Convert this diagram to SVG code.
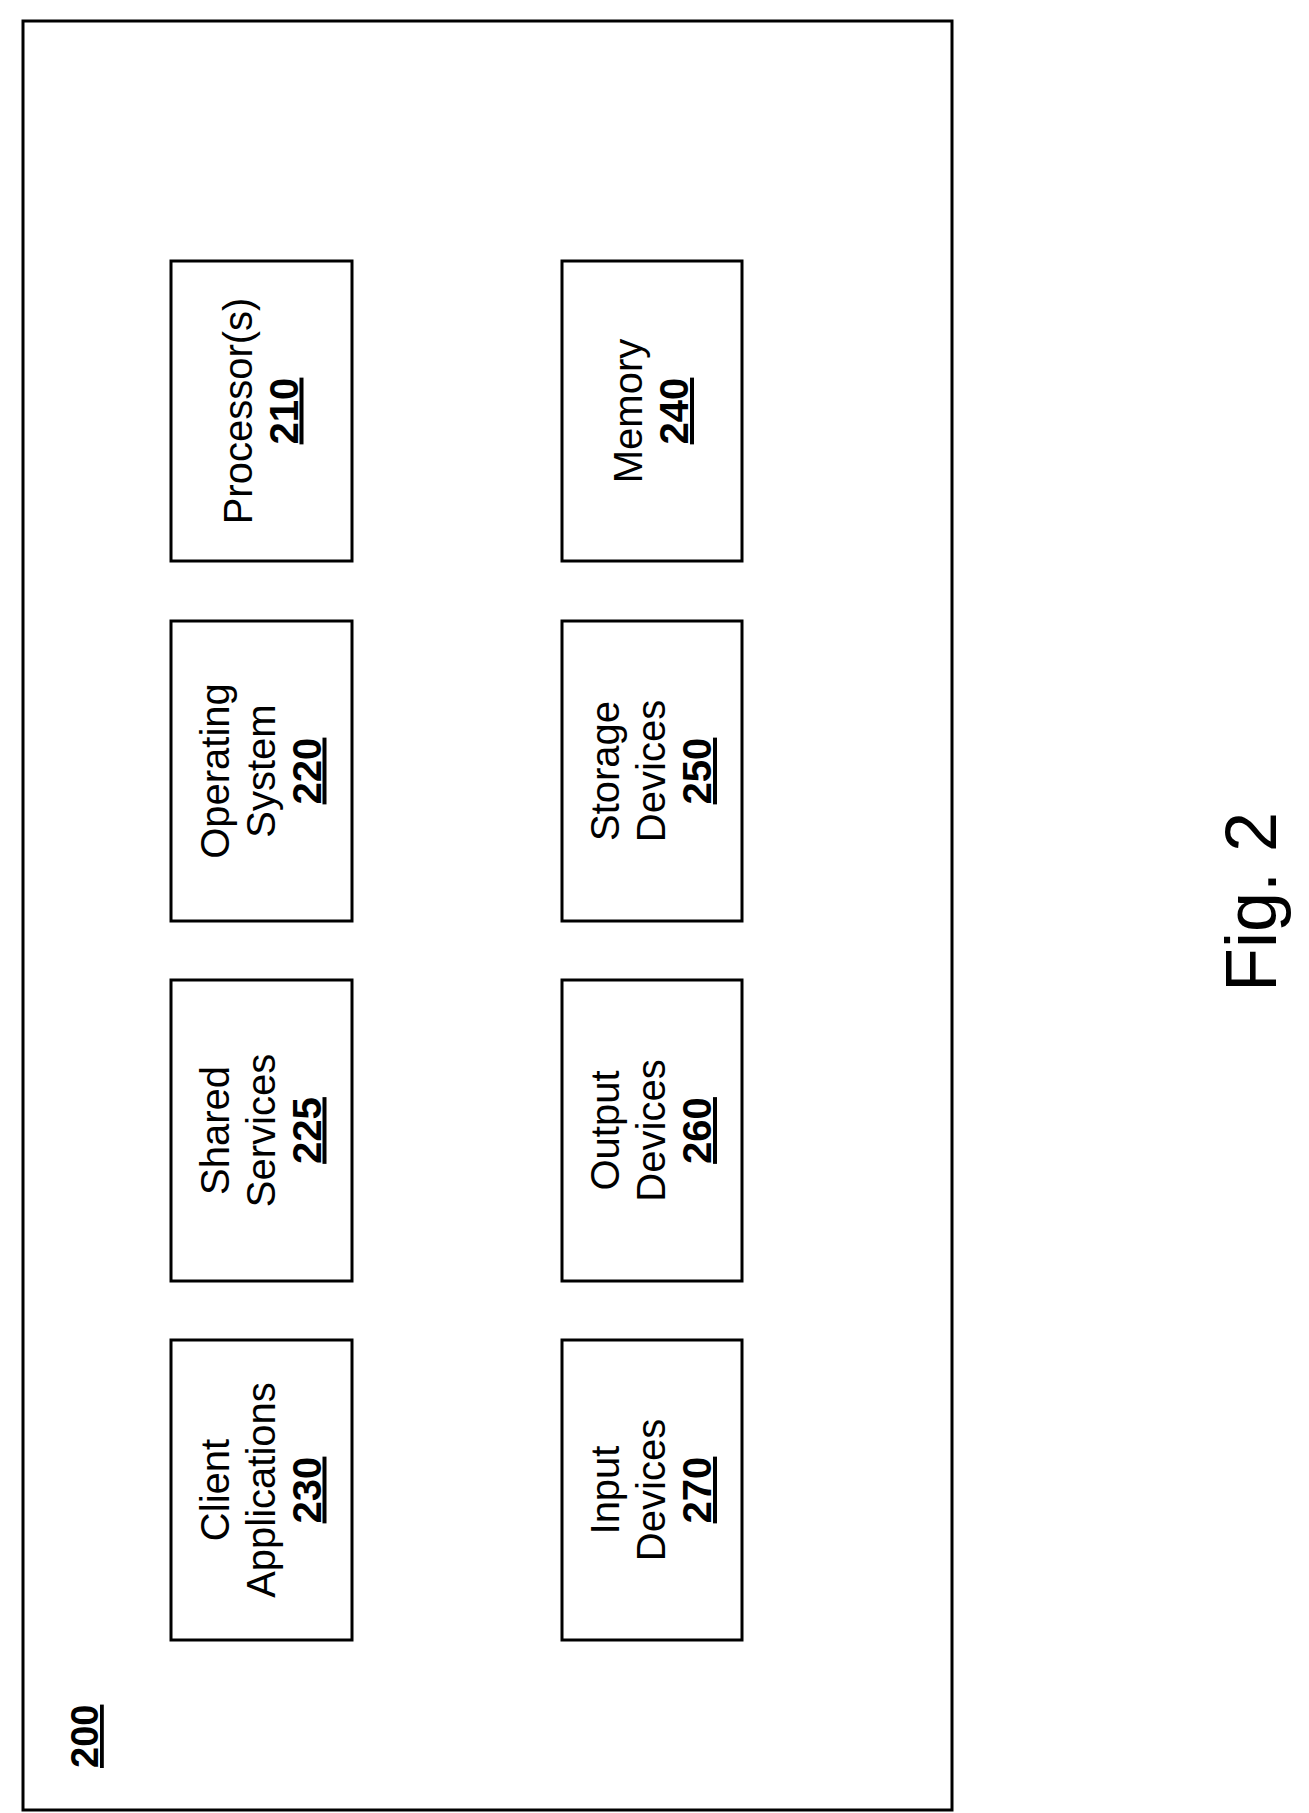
<svg xmlns="http://www.w3.org/2000/svg" width="1309" height="1813" viewBox="0 0 1309 1813">
<style>
rect{fill:#fff;stroke:#000;stroke-width:3}
text{font-family:"Liberation Sans",Arial,sans-serif;font-size:40px;text-anchor:middle;fill:#000}
.b{font-weight:bold;text-decoration:underline}
</style>
<rect width="1309" height="1813" style="stroke:none"/>
<g id="frame"><rect x="23" y="21" width="929" height="1789"/>
<text class="b" transform="translate(98,1768) rotate(-90)" style="text-anchor:start;font-size:38px">200</text></g>
<g id="n210"><rect x="171" y="261" width="181" height="300"/><text transform="translate(261.5,411) rotate(-90)"><tspan x="0" y="-10">Processor(s)</tspan><tspan class="b" x="0" y="36">210</tspan></text></g>
<g id="n220"><rect x="171" y="621" width="181" height="300"/><text transform="translate(261.5,771) rotate(-90)"><tspan x="0" y="-33">Operating</tspan><tspan x="0" y="13">System</tspan><tspan class="b" x="0" y="59">220</tspan></text></g>
<g id="n225"><rect x="171" y="980" width="181" height="301"/><text transform="translate(261.5,1130.5) rotate(-90)"><tspan x="0" y="-33">Shared</tspan><tspan x="0" y="13">Services</tspan><tspan class="b" x="0" y="59">225</tspan></text></g>
<g id="n230"><rect x="171" y="1340" width="181" height="300"/><text transform="translate(261.5,1490) rotate(-90)"><tspan x="0" y="-33">Client</tspan><tspan x="0" y="13">Applications</tspan><tspan class="b" x="0" y="59">230</tspan></text></g>
<g id="n240"><rect x="562" y="261" width="180" height="300"/><text transform="translate(652,411) rotate(-90)"><tspan x="0" y="-10">Memory</tspan><tspan class="b" x="0" y="36">240</tspan></text></g>
<g id="n250"><rect x="562" y="621" width="180" height="300"/><text transform="translate(652,771) rotate(-90)"><tspan x="0" y="-33">Storage</tspan><tspan x="0" y="13">Devices</tspan><tspan class="b" x="0" y="59">250</tspan></text></g>
<g id="n260"><rect x="562" y="980" width="180" height="301"/><text transform="translate(652,1130.5) rotate(-90)"><tspan x="0" y="-33">Output</tspan><tspan x="0" y="13">Devices</tspan><tspan class="b" x="0" y="59">260</tspan></text></g>
<g id="n270"><rect x="562" y="1340" width="180" height="300"/><text transform="translate(652,1490) rotate(-90)"><tspan x="0" y="-33">Input</tspan><tspan x="0" y="13">Devices</tspan><tspan class="b" x="0" y="59">270</tspan></text></g>
<g id="connectors"/>
<text transform="translate(1276,902) rotate(-90)" style="font-size:72px">Fig. 2</text>
</svg>
